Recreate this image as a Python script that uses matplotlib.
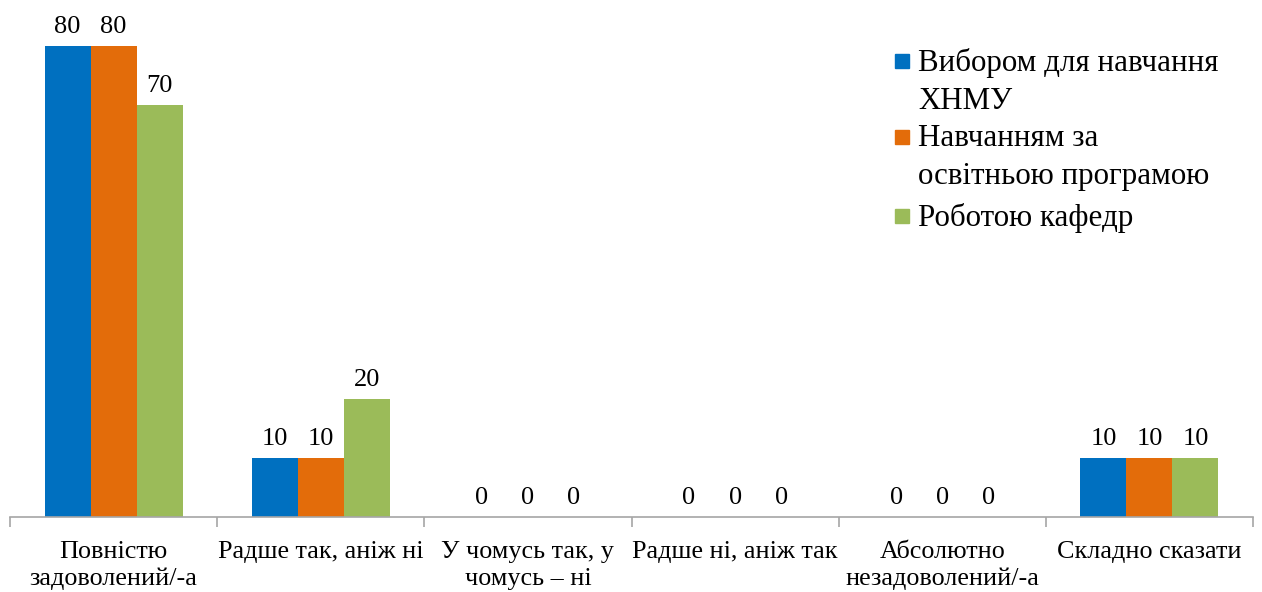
import matplotlib
matplotlib.use("Agg")
import matplotlib.pyplot as plt
from matplotlib.patches import Rectangle
import numpy as np

categories = ["Повністю\nзадоволений/-а", "Радше так, аніж ні", "У чомусь так, у\nчомусь – ні",
              "Радше ні, аніж так", "Абсолютно\nнезадоволений/-а", "Складно сказати"]
series_names = ["Вибором для навчання\nХНМУ", "Навчанням за\nосвітньою програмою", "Роботою кафедр"]
vals_vybor = [80, 10, 0, 0, 0, 10]
vals_navch = [80, 10, 0, 0, 0, 10]
vals_kafedr = [70, 20, 0, 0, 0, 10]
colors = ["#0070C0", "#E36C0A", "#9BBB59"]

plt.rcParams['font.family'] = ['Liberation Serif', 'DejaVu Serif']

W, H = 1262, 592
fig = plt.figure(figsize=(W / 100, H / 100), dpi=100)
ax = fig.add_axes([10 / W, 75 / H, (1253 - 10) / W, (517 - 46) / H])

x = np.arange(len(categories))
bw = 46 / 207
for k, vals in enumerate([vals_vybor, vals_navch, vals_kafedr]):
    bars = ax.bar(x + (k - 1) * bw, vals, width=bw, color=colors[k], label=series_names[k], zorder=2)
    for b, v in zip(bars, vals):
        ax.annotate(str(v), (b.get_x() + b.get_width() / 2, v), xytext=(0, 6),
                    textcoords="offset points", ha="center", va="bottom",
                    fontsize=19, annotation_clip=False)

ax.set_xlim(-0.5, len(categories) - 0.5)
ax.set_ylim(0, 80)
for s in ["top", "right", "left"]:
    ax.spines[s].set_visible(False)
ax.spines["bottom"].set_color("#A6A6A6")
ax.spines["bottom"].set_linewidth(1.2)
ax.set_yticks([])
ax.set_xticks(x)
ax.set_xticklabels(categories, fontsize=18.8, linespacing=1.3)
ax.tick_params(axis="x", which="major", length=0, pad=17)
ax.set_xticks(np.arange(-0.5, len(categories)), minor=True)
ax.tick_params(axis="x", which="minor", length=7, color="#A6A6A6", width=1.2)

# legend (manual, handles aligned with first text line)
leg_rows = [(61, series_names[0]), (137, series_names[1]), (216, series_names[2])]
for (yc, name), c in zip(leg_rows, colors):
    fig.patches.append(Rectangle((895 / W, (H - yc - 7) / H), 14 / W, 14 / H,
                                 transform=fig.transFigure, color=c, figure=fig))
    fig.text(918 / W, (H - yc + 13) / H, name, fontsize=22.3, va="top", ha="left",
             linespacing=1.42)

fig.savefig("out.png", dpi=100)
